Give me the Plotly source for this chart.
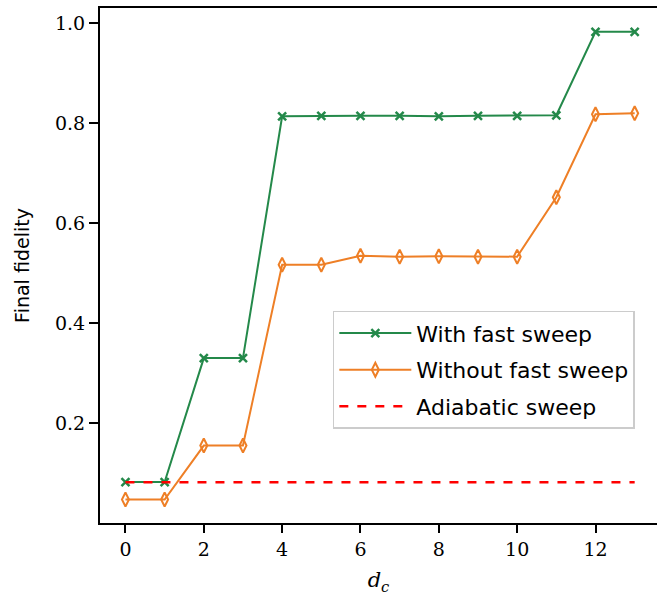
import plotly.graph_objects as go

d_c = list(range(14))
with_fast = [0.082, 0.082, 0.330, 0.330, 0.814, 0.815, 0.815, 0.815, 0.814, 0.815, 0.815, 0.816, 0.983, 0.983]
without_fast = [0.047, 0.047, 0.155, 0.155, 0.517, 0.517, 0.535, 0.533, 0.534, 0.533, 0.533, 0.652, 0.818, 0.820]
adiabatic = [0.0815] * 14

green = "#24894a"
orange = "#ee7f26"

fig = go.Figure()
fig.add_trace(go.Scatter(x=d_c, y=with_fast, mode="lines+markers", name="With fast sweep",
                         legendgroup="a",
                         line=dict(color=green, width=2),
                         marker=dict(symbol="x-thin-open", size=8, line=dict(color=green, width=2.5))))
fig.add_trace(go.Scatter(x=d_c, y=without_fast, mode="lines+markers", name="Without fast sweep",
                         legendgroup="b",
                         line=dict(color=orange, width=2),
                         marker=dict(symbol="diamond-tall-open", size=10, line=dict(color=orange, width=2))))
fig.add_trace(go.Scatter(x=d_c, y=adiabatic, mode="lines", name="Adiabatic sweep",
                         legendgroup="c",
                         line=dict(color="#ff0000", width=2.5, dash="dash")))

fig.update_layout(
    width=657, height=601,
    margin=dict(l=100, r=0, t=8, b=78),
    plot_bgcolor="white", paper_bgcolor="white",
    showlegend=True,
    legend=dict(x=0.418, y=0.412, xanchor="left", yanchor="top",
                bgcolor="rgba(255,255,255,0.8)", bordercolor="#cccccc", borderwidth=1.5,
                font=dict(family="DejaVu Sans", size=22, color="black"),
                tracegroupgap=5, itemwidth=72),
    xaxis=dict(range=[-0.65, 13.57], tickvals=[0, 2, 4, 6, 8, 10, 12],
               showgrid=False, zeroline=False, showline=True, linecolor="black", linewidth=2,
               mirror=True, ticks="outside", ticklen=8, tickwidth=2, tickcolor="black",
               tickfont=dict(family="DejaVu Serif", size=19, color="black"),
               title=dict(text="<i>d<sub>c</sub></i>", font=dict(family="DejaVu Serif", size=21, color="black"), standoff=14)),
    yaxis=dict(range=[0.0, 1.0307], tickvals=[0.2, 0.4, 0.6, 0.8, 1.0], ticktext=["0.2", "0.4", "0.6", "0.8", "1.0"],
               showgrid=False, zeroline=False, showline=True, linecolor="black", linewidth=2,
               ticks="outside", ticklen=9, tickwidth=2, tickcolor="black",
               tickfont=dict(family="DejaVu Serif", size=19, color="black"),
               title=dict(text="Final fidelity", font=dict(family="DejaVu Sans", size=19, color="black"), standoff=20)),
)

fig.write_html("out.html")
